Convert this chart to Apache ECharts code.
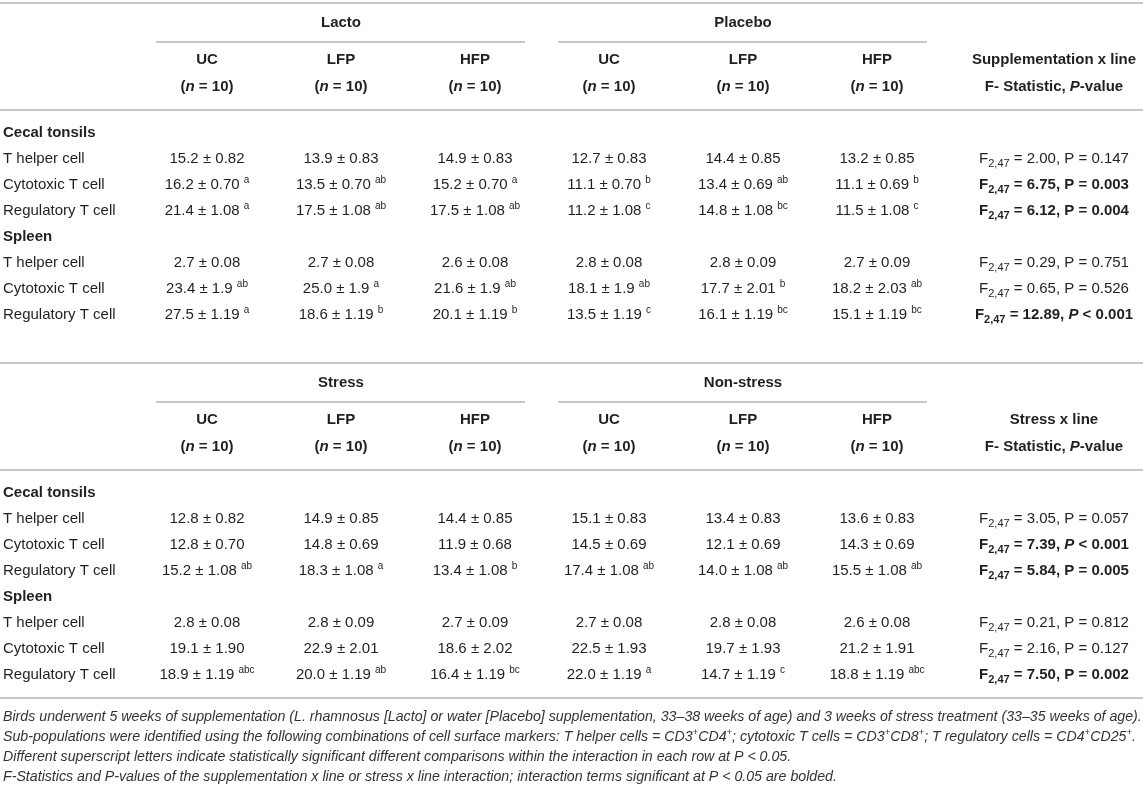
<!DOCTYPE html>
<html>
<head>
<meta charset="utf-8">
<script src="https://cdn.jsdelivr.net/npm/echarts@6/dist/echarts.min.js"></script>
<style>
  html, body { margin: 0; padding: 0; background: #fff; }
  #chart { width: 1143px; height: 787px; }
</style>
</head>
<body>
<div id="chart"></div>
<script>
/* T-cell sub-populations table, drawn as two stacked ECharts grids */

// --- Column / row labels ---
const treatments   = ['UC', 'LFP', 'HFP'];
const groupSize    = 10;
const suppGroups   = ['Lacto', 'Placebo'];
const stressGroups = ['Stress', 'Non-stress'];
const rowLabels = ['Cecal tonsils', 'T helper cell', 'Cytotoxic T cell', 'Regulatory T cell',
                   'Spleen', 'T helper cell', 'Cytotoxic T cell', 'Regulatory T cell'];
const sectionRows = ['Cecal tonsils', 'Spleen'];

// --- Supplementation x line (Lacto UC/LFP/HFP, Placebo UC/LFP/HFP) ---
const suppMean = [
  null,
  ['15.2', '13.9', '14.9', '12.7', '14.4', '13.2'],
  ['16.2', '13.5', '15.2', '11.1', '13.4', '11.1'],
  ['21.4', '17.5', '17.5', '11.2', '14.8', '11.5'],
  null,
  ['2.7', '2.7', '2.6', '2.8', '2.8', '2.7'],
  ['23.4', '25.0', '21.6', '18.1', '17.7', '18.2'],
  ['27.5', '18.6', '20.1', '13.5', '16.1', '15.1'],
];
const suppSem = [
  null,
  ['0.82', '0.83', '0.83', '0.83', '0.85', '0.85'],
  ['0.70', '0.70', '0.70', '0.70', '0.69', '0.69'],
  ['1.08', '1.08', '1.08', '1.08', '1.08', '1.08'],
  null,
  ['0.08', '0.08', '0.08', '0.08', '0.09', '0.09'],
  ['1.9', '1.9', '1.9', '1.9', '2.01', '2.03'],
  ['1.19', '1.19', '1.19', '1.19', '1.19', '1.19'],
];
const suppSig = [
  null,
  ['', '', '', '', '', ''],
  ['a', 'ab', 'a', 'b', 'ab', 'b'],
  ['a', 'ab', 'ab', 'c', 'bc', 'c'],
  null,
  ['', '', '', '', '', ''],
  ['ab', 'a', 'ab', 'ab', 'b', 'ab'],
  ['a', 'b', 'b', 'c', 'bc', 'bc'],
];
const suppF  = [null, '2.00', '6.75', '6.12', null, '0.29', '0.65', '12.89'];
const suppP  = [null, 0.147, 0.003, 0.004, null, 0.751, 0.526, 0.001];
const suppOp = [null, '=', '=', '=', null, '=', '=', '<'];

// --- Stress x line (Stress UC/LFP/HFP, Non-stress UC/LFP/HFP) ---
const stressMean = [
  null,
  ['12.8', '14.9', '14.4', '15.1', '13.4', '13.6'],
  ['12.8', '14.8', '11.9', '14.5', '12.1', '14.3'],
  ['15.2', '18.3', '13.4', '17.4', '14.0', '15.5'],
  null,
  ['2.8', '2.8', '2.7', '2.7', '2.8', '2.6'],
  ['19.1', '22.9', '18.6', '22.5', '19.7', '21.2'],
  ['18.9', '20.0', '16.4', '22.0', '14.7', '18.8'],
];
const stressSem = [
  null,
  ['0.82', '0.85', '0.85', '0.83', '0.83', '0.83'],
  ['0.70', '0.69', '0.68', '0.69', '0.69', '0.69'],
  ['1.08', '1.08', '1.08', '1.08', '1.08', '1.08'],
  null,
  ['0.08', '0.09', '0.09', '0.08', '0.08', '0.08'],
  ['1.90', '2.01', '2.02', '1.93', '1.93', '1.91'],
  ['1.19', '1.19', '1.19', '1.19', '1.19', '1.19'],
];
const stressSig = [
  null,
  ['', '', '', '', '', ''],
  ['', '', '', '', '', ''],
  ['ab', 'a', 'b', 'ab', 'ab', 'ab'],
  null,
  ['', '', '', '', '', ''],
  ['', '', '', '', '', ''],
  ['abc', 'ab', 'bc', 'a', 'c', 'abc'],
];
const stressF  = [null, '3.05', '7.39', '5.84', null, '0.21', '2.16', '7.50'];
const stressP  = [null, 0.057, 0.001, 0.005, null, 0.812, 0.127, 0.002];
const stressOp = [null, '=', '<', '=', null, '=', '=', '='];

const footnotes = [
  'Birds underwent 5 weeks of supplementation (L. rhamnosus [Lacto] or water [Placebo] supplementation, 33–38 weeks of age) and 3 weeks of stress treatment (33–35 weeks of age).',
  'Sub-populations were identified using the following combinations of cell surface markers: T helper cells = CD3{sup|+}CD4{sup|+}; cytotoxic T cells = CD3{sup|+}CD8{sup|+}; T regulatory cells = CD4{sup|+}CD25{sup|+}.',
  'Different superscript letters indicate statistically significant different comparisons within the interaction in each row at P < 0.05.',
  'F-Statistics and P-values of the supplementation x line or stress x line interaction; interaction terms significant at P < 0.05 are bolded.',
];

// --- Layout / style ---
const W = 1143;
const FONT = '"Liberation Sans", Arial, sans-serif';
const INK = '#231f20';
const RULE = '#b4b4b4';
const FS = 15;
const ROW_H = 26;
const COL_LEFT = 140, COL_RIGHT = 944;     // six value columns
const STAT_X = 1054;                       // centre of F-statistic column
const tableTops = [3, 363];

const base = { fontFamily: FONT, fontSize: FS, color: INK };
const rich = {
  r:   { ...base },
  b:   { ...base, fontWeight: 'bold' },
  bi:  { ...base, fontWeight: 'bold', fontStyle: 'italic' },
  i:   { ...base, fontStyle: 'italic' },
  sub: { ...base, fontSize: 11, lineHeight: 14, verticalAlign: 'bottom' },
  subb:{ ...base, fontSize: 11, lineHeight: 14, verticalAlign: 'bottom', fontWeight: 'bold' },
  sup: { ...base, fontSize: 10, lineHeight: 13, verticalAlign: 'top' },
};

function statLabel(f, p, op) {
  if (f == null) return '';
  const bold = p < 0.05;
  const t = bold ? 'b' : 'r';
  const pt = op === '<' ? (bold ? 'bi' : 'i') : t;
  return `{${t}|F}{${bold ? 'subb' : 'sub'}|2,47}{${t}| = ${f}, }{${pt}|P}{${t}| ${op} ${p.toFixed(3)}}`;
}

function buildCells(mean, sem, sig) {
  const cells = [];
  mean.forEach((row, r) => {
    if (!row) return;
    row.forEach((m, c) => {
      const s = sig[r][c];
      cells.push({ col: c, row: r, text: `${m} ± ${sem[r][c]}` + (s ? ` {sup|${s}}` : '') });
    });
  });
  return cells;
}

const tables = [
  { groups: suppGroups, cells: buildCells(suppMean, suppSem, suppSig),
    stat: rowLabels.map((_, i) => statLabel(suppF[i], suppP[i], suppOp[i])),
    statHead: 'Supplementation x line' },
  { groups: stressGroups, cells: buildCells(stressMean, stressSem, stressSig),
    stat: rowLabels.map((_, i) => statLabel(stressF[i], stressP[i], stressOp[i])),
    statHead: 'Stress x line' },
];

const grids = [], xAxes = [], yAxes = [], series = [], graphics = [];

tables.forEach((tb, t) => {
  const T = tableTops[t];
  const gridTop = T + 117;
  grids.push({ left: COL_LEFT, right: W - COL_RIGHT, top: gridTop, height: ROW_H * rowLabels.length,
               containLabel: false, outerBoundsMode: 'none' });

  // value columns: UC / LFP / HFP (n = 10)
  xAxes.push({
    type: 'category', gridIndex: t, position: 'top',
    data: tb.groups.flatMap(() => treatments),
    axisLine: { show: false }, axisTick: { show: false }, splitLine: { show: false },
    axisLabel: {
      interval: 0, margin: 19.5, lineHeight: 27, rich,
      formatter: v => `{b|${v}}\n{b|(}{bi|n}{b| = ${groupSize})}`,
    },
  });
  // group header: Lacto / Placebo, Stress / Non-stress
  xAxes.push({
    type: 'category', gridIndex: t, position: 'top',
    data: tb.groups,
    axisLine: { show: false }, axisTick: { show: false }, splitLine: { show: false },
    axisLabel: { interval: 0, margin: 87, lineHeight: 20, rich, formatter: v => `{b|${v}}` },
  });

  // row labels (left)
  yAxes.push({
    type: 'category', gridIndex: t, inverse: true, data: rowLabels,
    axisLine: { show: false }, axisTick: { show: false }, splitLine: { show: false },
    axisLabel: {
      interval: 0, align: 'left', margin: COL_LEFT - 3, rich,
      formatter: v => sectionRows.includes(v) ? `{b|${v}}` : `{r|${v}}`,
    },
  });
  // F-statistic column (right)
  yAxes.push({
    type: 'category', gridIndex: t, inverse: true, position: 'right', data: rowLabels,
    offset: STAT_X - COL_RIGHT,
    axisLine: { show: false }, axisTick: { show: false }, splitLine: { show: false },
    axisLabel: { interval: 0, align: 'center', margin: 0, lineHeight: 20, rich,
                 formatter: (v, i) => tb.stat[i] },
    name: `{b|${tb.statHead}}\n{b|F- Statistic, }{bi|P}{b|-value}`,
    nameLocation: 'start', nameGap: 19.5,
    nameTextStyle: { align: 'center', verticalAlign: 'bottom', lineHeight: 27, rich },
  });

  series.push({
    type: 'custom', coordinateSystem: 'cartesian2d',
    xAxisIndex: 2 * t, yAxisIndex: 2 * t,
    data: tb.cells.map(c => [c.col, c.row]),
    silent: true,
    renderItem: (params, api) => {
      const pt = api.coord([api.value(0), api.value(1)]);
      return {
        type: 'text', x: pt[0], y: pt[1],
        style: { text: tb.cells[params.dataIndex].text, fontFamily: FONT, fontSize: FS,
                 fill: INK, align: 'center', verticalAlign: 'middle', lineHeight: 20, rich },
      };
    },
  });

  // rules
  const hline = (x1, x2, y) => graphics.push({
    type: 'line', shape: { x1, y1: y, x2, y2: y }, style: { stroke: RULE, lineWidth: 1.5 }, silent: true,
  });
  hline(0, W, T);
  hline(0, W, T + 107);
  const half = (COL_RIGHT - COL_LEFT) / 2;
  tb.groups.forEach((g, gi) => {
    const x0 = COL_LEFT + gi * half;
    hline(x0 + 16, x0 + half - 17, T + 39);
  });
});
graphics.push({
  type: 'line', shape: { x1: 0, y1: 698, x2: W, y2: 698 },
  style: { stroke: RULE, lineWidth: 1.5 }, silent: true,
});

const chart = echarts.init(document.getElementById('chart'), null, { renderer: 'canvas' });
chart.setOption({
  animation: false,
  backgroundColor: '#fff',
  title: {
    left: 3, top: 707, padding: 0,
    text: footnotes.join('\n'),
    textStyle: {
      fontFamily: FONT, fontSize: 14.2, fontStyle: 'italic', fontWeight: 'normal', color: '#333',
      lineHeight: 20,
      rich: {
        sup: { fontFamily: FONT, fontSize: 9.5, fontStyle: 'italic', color: '#333',
               lineHeight: 12, verticalAlign: 'top' },
      },
    },
  },
  grid: grids,
  xAxis: xAxes,
  yAxis: yAxes,
  series,
  graphic: graphics,
});
window.addEventListener('resize', () => chart.resize());
</script>
</body>
</html>
